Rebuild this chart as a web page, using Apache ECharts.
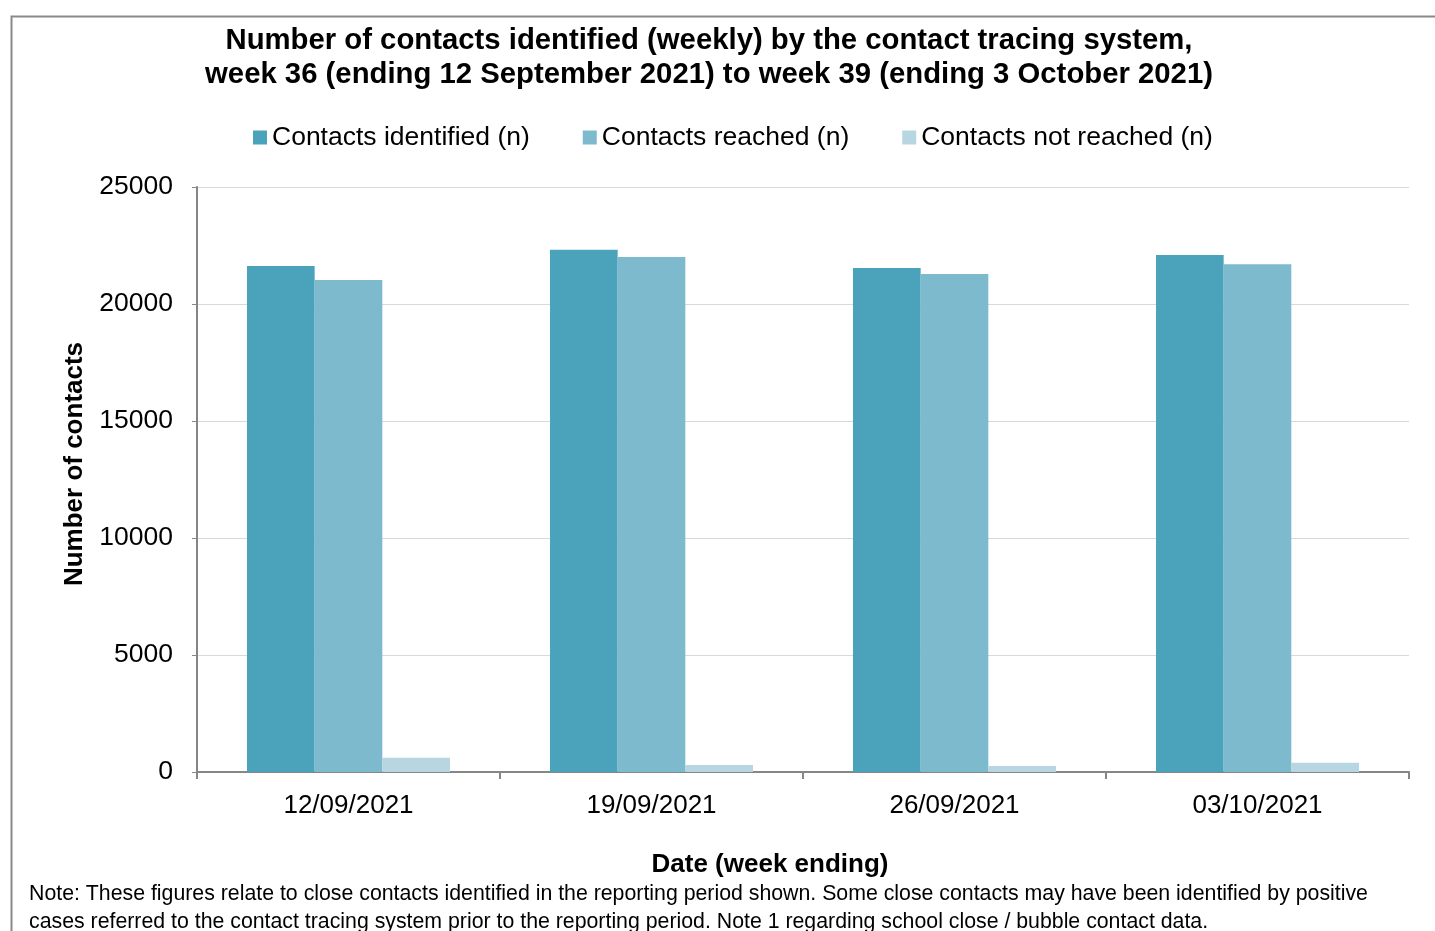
<!DOCTYPE html>
<html>
<head>
<meta charset="utf-8">
<script src="https://cdn.jsdelivr.net/npm/echarts@6/dist/echarts.min.js"></script>
<style>
html,body{margin:0;padding:0;background:#fff;}
#chart{width:1435px;height:931px;}
</style>
</head>
<body>
<div id="chart"></div>
<script>
const categories = ['12/09/2021', '19/09/2021', '26/09/2021', '03/10/2021'];
const identified = [21620, 22320, 21540, 22090];
const reached = [21030, 22010, 21280, 21700];
const notReached = [610, 300, 260, 390];
const seriesNames = ['Contacts identified (n)', 'Contacts reached (n)', 'Contacts not reached (n)'];
const yTicks = [0, 5000, 10000, 15000, 20000, 25000];

const font = '"Liberation Sans", Arial, sans-serif';
const chart = echarts.init(document.getElementById('chart'));
chart.setOption({
  animation: false,
  textStyle: { fontFamily: font },
  title: {
    text: 'Number of contacts identified (weekly) by the contact tracing system,\nweek 36 (ending 12 September 2021) to week 39 (ending 3 October 2021)',
    left: 704, top: 19, textAlign: 'center',
    textStyle: { fontFamily: font, fontSize: 29.3, fontWeight: 'bold', color: '#000', lineHeight: 34 }
  },
  legend: {
    data: seriesNames,
    left: 248, top: 119,
    itemWidth: 14, itemHeight: 14, itemGap: 53,
    icon: 'rect',
    textStyle: { fontFamily: font, fontSize: 26.5, color: '#000' }
  },
  grid: { left: 197, right: 26, top: 187, bottom: 159, containLabel: false },
  xAxis: {
    type: 'category', data: categories,
    axisLine: { lineStyle: { color: '#868686', width: 2 } },
    axisTick: { show: true, length: 7, lineStyle: { color: '#868686', width: 2 } },
    axisLabel: { fontFamily: font, fontSize: 26, color: '#000', margin: 21 }
  },
  yAxis: {
    type: 'value', min: 0, max: 25000, interval: 5000,
    axisLine: { show: true, lineStyle: { color: '#868686', width: 2 } },
    axisTick: { show: true, length: 5, lineStyle: { color: '#868686', width: 1 } },
    axisLabel: { fontFamily: font, fontSize: 26.5, color: '#000', margin: 24,
      formatter: v => yTicks.includes(v) ? String(v) : '' },
    splitLine: { lineStyle: { color: '#D9D9D9', width: 1 } }
  },
  series: [
    { name: seriesNames[0], type: 'bar', data: identified, barGap: '0%', barCategoryGap: '33%',
      itemStyle: { color: '#4AA3BA' } },
    { name: seriesNames[1], type: 'bar', data: reached, barGap: '0%', barCategoryGap: '33%',
      itemStyle: { color: '#7EBACE' } },
    { name: seriesNames[2], type: 'bar', data: notReached, barGap: '0%', barCategoryGap: '33%',
      itemStyle: { color: '#B7D6E1' } }
  ],
  graphic: [
    { type: 'rect', left: 9, top: 14, shape: { width: 1450, height: 1000 },
      style: { fill: 'none', stroke: '#898989', lineWidth: 2 }, silent: true, z: -1 },
    { type: 'text', x: 75, y: 464, rotation: Math.PI / 2,
      style: { text: 'Number of contacts', font: 'bold 26px "Liberation Sans", Arial, sans-serif',
        fill: '#000', align: 'center', verticalAlign: 'middle' } },
    { type: 'text', x: 770, y: 865,
      style: { text: 'Date (week ending)', font: 'bold 26px "Liberation Sans", Arial, sans-serif',
        fill: '#000', align: 'center', verticalAlign: 'middle' } },
    { type: 'text', left: 29, top: 880,
      style: { text: 'Note: These figures relate to close contacts identified in the reporting period shown. Some close contacts may have been identified by positive\ncases referred to the contact tracing system prior to the reporting period. Note 1 regarding school close / bubble contact data.',
        font: '21.3px "Liberation Sans", Arial, sans-serif', fill: '#000', lineHeight: 28 } }
  ]
});
</script>
</body>
</html>
